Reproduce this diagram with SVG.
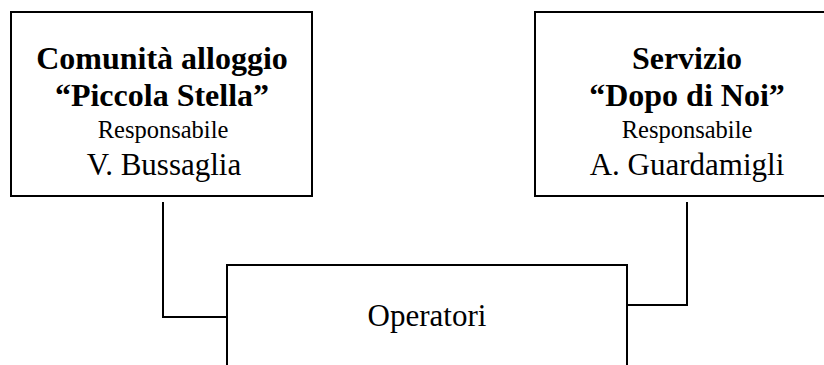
<svg xmlns="http://www.w3.org/2000/svg" width="824" height="365" viewBox="0 0 824 365">
<style>
  .box { fill: #fff; stroke: #000; stroke-width: 2; }
  .conn { fill: none; stroke: #000; stroke-width: 2; }
  text { font-family: "Liberation Serif", "Times New Roman", serif; fill: #000; text-anchor: middle; }
  .t { font-weight: bold; font-size: 32px; }
  .r { font-size: 24.5px; }
  .n { font-size: 31px; }
</style>
<rect width="824" height="365" fill="#fff"/>
<g id="connectors">
  <polyline class="conn" points="163,202 163,317 227,317"/>
  <polyline class="conn" points="687,202 687,305 627,305"/>
</g>
<g id="node-piccola-stella">
  <rect class="box" x="11" y="12" width="301" height="184"/>
  <text class="t" x="162" y="69">Comunità alloggio</text>
  <text class="t" x="162" y="106">“Piccola Stella”</text>
  <text class="r" x="163" y="138">Responsabile</text>
  <text class="n" x="164" y="175">V. Bussaglia</text>
</g>
<g id="node-dopo-di-noi">
  <rect class="box" x="535" y="12" width="302" height="184"/>
  <text class="t" x="687" y="69">Servizio</text>
  <text class="t" x="687" y="106">“Dopo di Noi”</text>
  <text class="r" x="687" y="138">Responsabile</text>
  <text class="n" x="687" y="175">A. Guardamigli</text>
</g>
<g id="node-operatori">
  <rect class="box" x="227" y="265" width="400" height="120"/>
  <text class="n" x="427" y="326">Operatori</text>
</g>
</svg>
